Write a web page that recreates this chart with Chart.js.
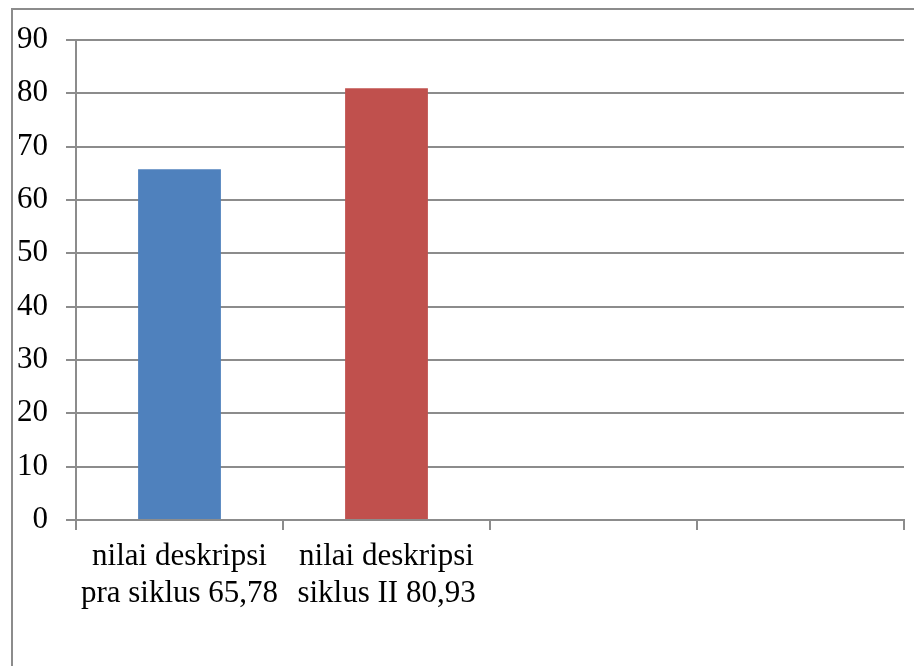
<!DOCTYPE html>
<html>
<head>
<meta charset="utf-8">
<script src="https://cdn.jsdelivr.net/npm/chart.js@4/dist/chart.umd.min.js"></script>
<style>
html,body{margin:0;padding:0;background:#fff;}
#wrap{position:relative;width:914px;height:666px;}
</style>
</head>
<body>
<div id="wrap"><canvas id="c" width="914" height="666"></canvas></div>
<script>
const categories = [["nilai deskripsi","pra siklus 65,78"],["nilai deskripsi","siklus II 80,93"],"",""];
const values = [65.78, 80.93, null, null];
const barColors = ["#4F81BD","#C0504D","#4F81BD","#4F81BD"];
const yTicks = [0,10,20,30,40,50,60,70,80,90];

const gridColor = "#8c8c8c";
const font = {family:"'Liberation Serif','Times New Roman',serif", size:31};

const outerBorder = {
  id:'outerBorder',
  beforeDraw(chart){
    const ctx = chart.ctx;
    ctx.save();
    ctx.strokeStyle = "#8c8c8c";
    ctx.lineWidth = 2;
    ctx.strokeRect(12, 9, 2000, 2000);
    ctx.restore();
  }
};

new Chart(document.getElementById('c'), {
  type:'bar',
  data:{
    labels:categories,
    datasets:[{data:values, backgroundColor:barColors, barPercentage:0.4, categoryPercentage:1.0}]
  },
  options:{
    responsive:false,
    animation:false,
    layout:{padding:{left:0,top:40,right:10,bottom:0}},
    plugins:{legend:{display:false},tooltip:{enabled:false}},
    scales:{
      x:{
        grid:{drawOnChartArea:false, drawTicks:true, tickLength:10, offset:true, color:gridColor, lineWidth:2},
        border:{color:gridColor, width:2},
        ticks:{color:'#000', font:font, maxRotation:0, autoSkip:false, padding:8},
        afterFit(s){ s.height = 146; }
      },
      y:{
        min:0, max:90,
        afterBuildTicks(s){ s.ticks = yTicks.map(v=>({value:v})); },
        grid:{color:gridColor, lineWidth:2, tickLength:10},
        border:{color:gridColor, width:2},
        ticks:{color:'#000', font:font, padding:18},
        afterFit(s){ s.width = 76; }
      }
    }
  },
  plugins:[outerBorder]
});
</script>
</body>
</html>
